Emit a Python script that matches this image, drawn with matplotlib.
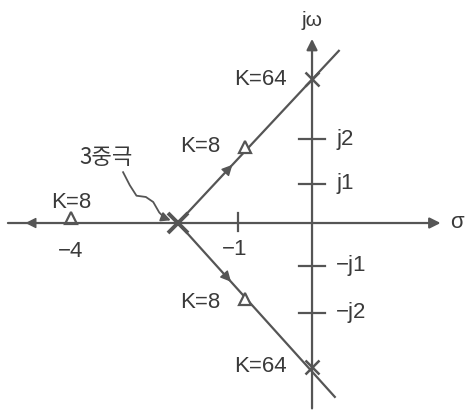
import numpy as np
import matplotlib.pyplot as plt
from matplotlib.patches import FancyArrowPatch

plt.rcParams['font.family'] = ['Liberation Sans', 'Noto Sans CJK KR', 'DejaVu Sans']

# root locus of K/(s+2)^3, positions
pole = -2.0                      # triple pole
k64_im = 3.42                    # jw-axis crossing (K=64)
k8_cplx = (-1.0, 1.8)            # K=8 on the complex branches
k8_real = -3.6                   # K=8 on the real axis
branch_ends = [(0.40, 4.10), (0.34, -4.14)]
real_end = -4.58

sig_ticks = [-1.1]
sig_tick_labels = ['\u22121']
jw_ticks = [2.0, 0.93, -1.02, -2.14]
jw_tick_labels = ['j2', 'j1', '\u2212j1', '\u2212j2']

lc = '#555555'
tc = '#3a3a3a'
fs = 16

fig = plt.figure(figsize=(4.67, 4.11), dpi=100)
ax = fig.add_axes([0, 0, 1, 1])
ax.set_xlim(-4.657, 2.313)
ax.set_ylim(-4.476, 5.31)
ax.axis('off')

# axes
ax.annotate('', xy=(1.96, 0), xytext=(real_end, 0),
            arrowprops=dict(arrowstyle='-|>', color=lc, lw=1.6, mutation_scale=16))
ax.annotate('', xy=(0, 4.45), xytext=(0, -4.48),
            arrowprops=dict(arrowstyle='-|>', color=lc, lw=1.6, mutation_scale=16))
ax.text(2.16, 0.02, '\u03c3', fontsize=fs, color=tc, ha='center', va='center')
ax.text(0, 4.83, 'j\u03c9', fontsize=fs - 1, color=tc, ha='center', va='center')

# ticks
for x, lab in zip(sig_ticks, sig_tick_labels):
    ax.plot([x, x], [-0.2, 0.25], color=lc, lw=1.6)
    ax.text(x - 0.05, -0.64, lab, fontsize=fs, color=tc, ha='center', va='center')
for y, lab in zip(jw_ticks, jw_tick_labels):
    ax.plot([-0.2, 0.19], [y, y], color=lc, lw=1.6)
    ax.text(0.36, y, lab, fontsize=fs, color=tc, ha='left', va='center')

# complex branches
for xe, ye in branch_ends:
    ax.plot([pole, xe], [0, ye], color=lc, lw=1.6)
    t = 0.3
    x0, y0 = pole + t * (xe - pole), t * ye
    x1, y1 = pole + (t + 0.05) * (xe - pole), (t + 0.05) * ye
    ax.annotate('', xy=(x1, y1), xytext=(x0, y0),
                arrowprops=dict(arrowstyle='-|>', color=lc, lw=1, mutation_scale=16))

# real-axis branch arrow
ax.annotate('', xy=(-4.32, 0), xytext=(-4.1, 0),
            arrowprops=dict(arrowstyle='-|>', color=lc, lw=1, mutation_scale=16))

# poles / crossings
ax.plot([pole], [0], marker='x', ms=14, mew=2.8, color=lc)
ax.plot([0, 0], [k64_im, -k64_im], 'x', ms=10, mew=1.8, color=lc, ls='none')

# K=8 triangles
kx = [k8_cplx[0], k8_cplx[0], k8_real]
ky = [k8_cplx[1], -k8_cplx[1], 0.12]
ax.plot(kx, ky, '^', ms=8, mfc='white', mec=lc, mew=1.6, ls='none')

# labels
ax.text(-0.37, k64_im, 'K=64', fontsize=fs, color=tc, ha='right', va='center')
ax.text(-0.37, -k64_im, 'K=64', fontsize=fs, color=tc, ha='right', va='center')
ax.text(-1.37, 1.81, 'K=8', fontsize=fs, color=tc, ha='right', va='center')
ax.text(-1.37, -1.9, 'K=8', fontsize=fs, color=tc, ha='right', va='center')
ax.text(k8_real, 0.5, 'K=8', fontsize=fs, color=tc, ha='center', va='center')
ax.text(k8_real, -0.69, '\u22124', fontsize=fs, color=tc, ha='center', va='center')
ax.text(-3.07, 1.55, '3중극', fontsize=fs, color=tc, ha='center', va='center',
        family=['Noto Sans CJK KR', 'DejaVu Sans'])

# wavy pointer to the triple pole
wx = [-2.82, -2.72, -2.62, -2.48, -2.37, -2.28, -2.2]
wy = [1.21, 0.9, 0.65, 0.62, 0.5, 0.25, 0.12]
ax.plot(wx, wy, color=lc, lw=1.3)
ax.annotate('', xy=(-2.07, 0.04), xytext=(wx[-1], wy[-1]),
            arrowprops=dict(arrowstyle='-|>', color=lc, lw=1.3, mutation_scale=14))

fig.savefig('out.png', dpi=100)
